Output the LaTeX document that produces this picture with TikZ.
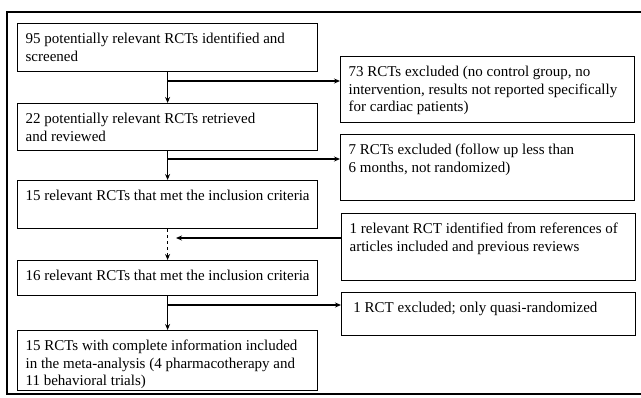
\documentclass[tikz,border=0pt]{standalone}
\usepackage{fontspec}
\setmainfont{Liberation Serif}
\usetikzlibrary{arrows.meta}
\tikzset{
  flowbox/.style={draw, line width=1.2pt, anchor=north west, inner xsep=8pt, inner ysep=9.5pt},
  arr/.style={line width=1.2pt, -{Stealth[length=6pt,width=5pt]}},
}
\newcommand{\boxtxt}[3]{\parbox[t][\dimexpr#2pt-19pt\relax][t]{\dimexpr#1pt-16pt\relax}{\raggedright\fontsize{15}{17.5}\selectfont #3}}
\begin{document}
\begin{tikzpicture}[x=1pt,y=-1pt]
    \useasboundingbox (0,0) rectangle (641,397);
    % Frame
    \draw[line width=1.2pt] (641,12) -- (7,12) -- (7,394) -- (641,394);

    % Nodes
    \node[flowbox] (n95) at (17,23) {\boxtxt{300}{48}{95 potentially relevant RCTs identified and\\screened}};
    \node[flowbox] (n22) at (17,103) {\boxtxt{300}{47}{22 potentially relevant RCTs retrieved\\and reviewed}};
    \node[flowbox] (n15) at (17,180) {\boxtxt{300}{48}{15 relevant RCTs that met the inclusion criteria}};
    \node[flowbox] (n16) at (17,260) {\boxtxt{300}{35}{16 relevant RCTs that met the inclusion criteria}};
    \node[flowbox] (fin) at (17,330) {\boxtxt{300}{60}{15 RCTs with complete information included\\in the meta-analysis (4 pharmacotherapy and\\11 behavioral trials)}};
    \node[flowbox] (ex73) at (340,56) {\boxtxt{294}{66}{73 RCTs excluded (no control group, no\\intervention, results not reported specifically\\for cardiac patients)}};
    \node[flowbox] (ex7) at (340,134) {\boxtxt{294}{66}{7 RCTs excluded (follow up less than\\6 months, not randomized)}};
    \node[flowbox] (add1) at (341,213) {\boxtxt{294}{67}{1 relevant RCT identified from references of\\articles included and previous reviews}};
    \node[flowbox] (ex1) at (341,292) {\boxtxt{294}{43}{\ 1 RCT excluded; only quasi-randomized}};

    % Branch points
    \coordinate (b73) at (167,81);
    \coordinate (b7) at (167,159);
    \coordinate (badd) at (176,238);
    \coordinate (b1) at (167,305);

    % Edges
    \draw[arr] (n95.south) -- (n22.north);
    \draw[arr] (n22.south) -- (n15.north);
    \draw[arr, dashed] (n15.south) -- (n16.north);
    \draw[arr] (n16.south) -- (fin.north);
    \draw[arr] (b73) -- (b73 -| ex73.west);
    \draw[arr] (b7) -- (b7 -| ex7.west);
    \draw[arr] (badd -| add1.west) -- (badd);
    \draw[arr] (b1) -- (b1 -| ex1.west);
\end{tikzpicture}
\end{document}
